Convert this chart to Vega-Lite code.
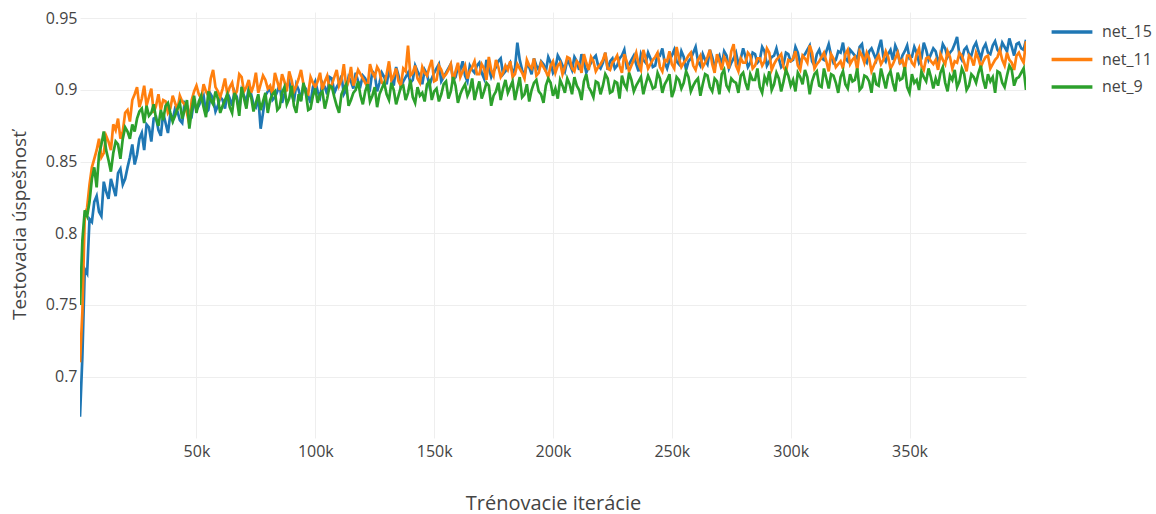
{
"$schema": "https://vega.github.io/schema/vega-lite/v6.json",
"width": 946, "height": 426,
"autosize": {"type": "none"},
"padding": {"left": 80, "top": 12, "right": 130, "bottom": 76},
"background": "white",
"config": {"view": {"stroke": null}, "font": "Open Sans"},
"data": {"values": [
{"i":1000,"net_15":0.672,"net_11":0.710,"net_9":0.750},
{"i":3000,"net_15":0.775,"net_11":0.812,"net_9":0.816},
{"i":5000,"net_15":0.810,"net_11":0.834,"net_9":0.822},
{"i":7000,"net_15":0.822,"net_11":0.852,"net_9":0.846},
{"i":9000,"net_15":0.815,"net_11":0.866,"net_9":0.855},
{"i":11000,"net_15":0.836,"net_11":0.856,"net_9":0.871},
{"i":13000,"net_15":0.824,"net_11":0.864,"net_9":0.851},
{"i":15000,"net_15":0.832,"net_11":0.876,"net_9":0.856},
{"i":17000,"net_15":0.842,"net_11":0.880,"net_9":0.862},
{"i":19000,"net_15":0.834,"net_11":0.871,"net_9":0.866},
{"i":21000,"net_15":0.846,"net_11":0.886,"net_9":0.871},
{"i":23000,"net_15":0.862,"net_11":0.893,"net_9":0.876},
{"i":25000,"net_15":0.855,"net_11":0.902,"net_9":0.880},
{"i":27000,"net_15":0.870,"net_11":0.894,"net_9":0.887},
{"i":29000,"net_15":0.876,"net_11":0.889,"net_9":0.889},
{"i":31000,"net_15":0.864,"net_11":0.901,"net_9":0.884},
{"i":33000,"net_15":0.881,"net_11":0.889,"net_9":0.880},
{"i":35000,"net_15":0.868,"net_11":0.886,"net_9":0.886},
{"i":37000,"net_15":0.877,"net_11":0.892,"net_9":0.889},
{"i":39000,"net_15":0.883,"net_11":0.887,"net_9":0.884},
{"i":41000,"net_15":0.887,"net_11":0.891,"net_9":0.882},
{"i":43000,"net_15":0.879,"net_11":0.896,"net_9":0.891},
{"i":45000,"net_15":0.891,"net_11":0.890,"net_9":0.886},
{"i":47000,"net_15":0.884,"net_11":0.876,"net_9":0.873},
{"i":49000,"net_15":0.893,"net_11":0.899,"net_9":0.896},
{"i":51000,"net_15":0.889,"net_11":0.897,"net_9":0.892},
{"i":53000,"net_15":0.896,"net_11":0.904,"net_9":0.888},
{"i":55000,"net_15":0.886,"net_11":0.896,"net_9":0.899},
{"i":57000,"net_15":0.894,"net_11":0.914,"net_9":0.890},
{"i":59000,"net_15":0.889,"net_11":0.899,"net_9":0.894},
{"i":61000,"net_15":0.893,"net_11":0.901,"net_9":0.889},
{"i":63000,"net_15":0.898,"net_11":0.897,"net_9":0.897},
{"i":65000,"net_15":0.889,"net_11":0.905,"net_9":0.884},
{"i":67000,"net_15":0.895,"net_11":0.899,"net_9":0.893},
{"i":69000,"net_15":0.900,"net_11":0.909,"net_9":0.902},
{"i":71000,"net_15":0.892,"net_11":0.902,"net_9":0.887},
{"i":73000,"net_15":0.897,"net_11":0.898,"net_9":0.895},
{"i":75000,"net_15":0.888,"net_11":0.912,"net_9":0.891},
{"i":77000,"net_15":0.873,"net_11":0.904,"net_9":0.886},
{"i":79000,"net_15":0.896,"net_11":0.907,"net_9":0.898},
{"i":81000,"net_15":0.901,"net_11":0.903,"net_9":0.893},
{"i":83000,"net_15":0.895,"net_11":0.912,"net_9":0.899},
{"i":85000,"net_15":0.904,"net_11":0.900,"net_9":0.888},
{"i":87000,"net_15":0.897,"net_11":0.906,"net_9":0.902},
{"i":89000,"net_15":0.906,"net_11":0.913,"net_9":0.894},
{"i":91000,"net_15":0.892,"net_11":0.899,"net_9":0.889},
{"i":93000,"net_15":0.900,"net_11":0.908,"net_9":0.897},
{"i":95000,"net_15":0.903,"net_11":0.904,"net_9":0.905},
{"i":97000,"net_15":0.896,"net_11":0.897,"net_9":0.886},
{"i":99000,"net_15":0.902,"net_11":0.905,"net_9":0.896},
{"i":101000,"net_15":0.899,"net_11":0.906,"net_9":0.891},
{"i":103000,"net_15":0.905,"net_11":0.900,"net_9":0.899},
{"i":105000,"net_15":0.897,"net_11":0.910,"net_9":0.894},
{"i":107000,"net_15":0.908,"net_11":0.904,"net_9":0.902},
{"i":109000,"net_15":0.902,"net_11":0.914,"net_9":0.889},
{"i":111000,"net_15":0.910,"net_11":0.907,"net_9":0.897},
{"i":113000,"net_15":0.900,"net_11":0.902,"net_9":0.904},
{"i":115000,"net_15":0.906,"net_11":0.916,"net_9":0.893},
{"i":117000,"net_15":0.912,"net_11":0.908,"net_9":0.900},
{"i":119000,"net_15":0.903,"net_11":0.911,"net_9":0.896},
{"i":121000,"net_15":0.908,"net_11":0.905,"net_9":0.899},
{"i":123000,"net_15":0.901,"net_11":0.918,"net_9":0.892},
{"i":125000,"net_15":0.911,"net_11":0.909,"net_9":0.902},
{"i":127000,"net_15":0.905,"net_11":0.913,"net_9":0.897},
{"i":129000,"net_15":0.909,"net_11":0.904,"net_9":0.905},
{"i":131000,"net_15":0.914,"net_11":0.920,"net_9":0.893},
{"i":133000,"net_15":0.903,"net_11":0.910,"net_9":0.900},
{"i":135000,"net_15":0.910,"net_11":0.906,"net_9":0.896},
{"i":137000,"net_15":0.906,"net_11":0.915,"net_9":0.903},
{"i":139000,"net_15":0.912,"net_11":0.931,"net_9":0.898},
{"i":141000,"net_15":0.907,"net_11":0.912,"net_9":0.895},
{"i":143000,"net_15":0.913,"net_11":0.908,"net_9":0.902},
{"i":145000,"net_15":0.904,"net_11":0.916,"net_9":0.898},
{"i":147000,"net_15":0.911,"net_11":0.910,"net_9":0.904},
{"i":149000,"net_15":0.908,"net_11":0.921,"net_9":0.893},
{"i":151000,"net_15":0.915,"net_11":0.907,"net_9":0.901},
{"i":153000,"net_15":0.906,"net_11":0.914,"net_9":0.897},
{"i":155000,"net_15":0.912,"net_11":0.911,"net_9":0.906},
{"i":157000,"net_15":0.918,"net_11":0.918,"net_9":0.899},
{"i":159000,"net_15":0.909,"net_11":0.913,"net_9":0.903},
{"i":161000,"net_15":0.914,"net_11":0.909,"net_9":0.897},
{"i":163000,"net_15":0.910,"net_11":0.917,"net_9":0.904},
{"i":165000,"net_15":0.917,"net_11":0.913,"net_9":0.900},
{"i":167000,"net_15":0.912,"net_11":0.920,"net_9":0.893},
{"i":169000,"net_15":0.919,"net_11":0.911,"net_9":0.906},
{"i":171000,"net_15":0.908,"net_11":0.915,"net_9":0.899},
{"i":173000,"net_15":0.915,"net_11":0.923,"net_9":0.903},
{"i":175000,"net_15":0.913,"net_11":0.910,"net_9":0.896},
{"i":177000,"net_15":0.920,"net_11":0.916,"net_9":0.905},
{"i":179000,"net_15":0.911,"net_11":0.912,"net_9":0.901},
{"i":181000,"net_15":0.916,"net_11":0.914,"net_9":0.898},
{"i":183000,"net_15":0.912,"net_11":0.909,"net_9":0.906},
{"i":185000,"net_15":0.933,"net_11":0.918,"net_9":0.901},
{"i":187000,"net_15":0.914,"net_11":0.912,"net_9":0.895},
{"i":189000,"net_15":0.918,"net_11":0.921,"net_9":0.904},
{"i":191000,"net_15":0.911,"net_11":0.915,"net_9":0.900},
{"i":193000,"net_15":0.917,"net_11":0.910,"net_9":0.907},
{"i":195000,"net_15":0.920,"net_11":0.919,"net_9":0.897},
{"i":197000,"net_15":0.913,"net_11":0.913,"net_9":0.903},
{"i":199000,"net_15":0.919,"net_11":0.917,"net_9":0.905},
{"i":201000,"net_15":0.915,"net_11":0.912,"net_9":0.901},
{"i":203000,"net_15":0.921,"net_11":0.919,"net_9":0.907},
{"i":205000,"net_15":0.913,"net_11":0.916,"net_9":0.898},
{"i":207000,"net_15":0.918,"net_11":0.922,"net_9":0.904},
{"i":209000,"net_15":0.923,"net_11":0.913,"net_9":0.909},
{"i":211000,"net_15":0.914,"net_11":0.918,"net_9":0.900},
{"i":213000,"net_15":0.920,"net_11":0.925,"net_9":0.906},
{"i":215000,"net_15":0.916,"net_11":0.914,"net_9":0.902},
{"i":217000,"net_15":0.922,"net_11":0.920,"net_9":0.895},
{"i":219000,"net_15":0.917,"net_11":0.916,"net_9":0.905},
{"i":221000,"net_15":0.919,"net_11":0.921,"net_9":0.903},
{"i":223000,"net_15":0.914,"net_11":0.915,"net_9":0.908},
{"i":225000,"net_15":0.922,"net_11":0.919,"net_9":0.899},
{"i":227000,"net_15":0.917,"net_11":0.924,"net_9":0.905},
{"i":229000,"net_15":0.924,"net_11":0.912,"net_9":0.910},
{"i":231000,"net_15":0.916,"net_11":0.920,"net_9":0.901},
{"i":233000,"net_15":0.921,"net_11":0.917,"net_9":0.907},
{"i":235000,"net_15":0.918,"net_11":0.926,"net_9":0.903},
{"i":237000,"net_15":0.925,"net_11":0.914,"net_9":0.909},
{"i":239000,"net_15":0.919,"net_11":0.922,"net_9":0.904},
{"i":241000,"net_15":0.922,"net_11":0.918,"net_9":0.906},
{"i":243000,"net_15":0.917,"net_11":0.923,"net_9":0.902},
{"i":245000,"net_15":0.924,"net_11":0.916,"net_9":0.908},
{"i":247000,"net_15":0.919,"net_11":0.921,"net_9":0.904},
{"i":249000,"net_15":0.921,"net_11":0.927,"net_9":0.911},
{"i":251000,"net_15":0.928,"net_11":0.915,"net_9":0.900},
{"i":253000,"net_15":0.918,"net_11":0.922,"net_9":0.907},
{"i":255000,"net_15":0.923,"net_11":0.919,"net_9":0.905},
{"i":257000,"net_15":0.920,"net_11":0.924,"net_9":0.909},
{"i":259000,"net_15":0.926,"net_11":0.917,"net_9":0.903},
{"i":261000,"net_15":0.920,"net_11":0.921,"net_9":0.908},
{"i":263000,"net_15":0.925,"net_11":0.916,"net_9":0.904},
{"i":265000,"net_15":0.918,"net_11":0.923,"net_9":0.910},
{"i":267000,"net_15":0.923,"net_11":0.918,"net_9":0.899},
{"i":269000,"net_15":0.921,"net_11":0.925,"net_9":0.906},
{"i":271000,"net_15":0.917,"net_11":0.914,"net_9":0.911},
{"i":273000,"net_15":0.924,"net_11":0.920,"net_9":0.903},
{"i":275000,"net_15":0.919,"net_11":0.927,"net_9":0.908},
{"i":277000,"net_15":0.926,"net_11":0.917,"net_9":0.905},
{"i":279000,"net_15":0.922,"net_11":0.922,"net_9":0.910},
{"i":281000,"net_15":0.923,"net_11":0.919,"net_9":0.905},
{"i":283000,"net_15":0.919,"net_11":0.924,"net_9":0.911},
{"i":285000,"net_15":0.925,"net_11":0.917,"net_9":0.907},
{"i":287000,"net_15":0.921,"net_11":0.922,"net_9":0.902},
{"i":289000,"net_15":0.927,"net_11":0.920,"net_9":0.909},
{"i":291000,"net_15":0.920,"net_11":0.926,"net_9":0.913},
{"i":293000,"net_15":0.924,"net_11":0.918,"net_9":0.904},
{"i":295000,"net_15":0.922,"net_11":0.923,"net_9":0.908},
{"i":297000,"net_15":0.918,"net_11":0.916,"net_9":0.906},
{"i":299000,"net_15":0.925,"net_11":0.921,"net_9":0.910},
{"i":301000,"net_15":0.921,"net_11":0.922,"net_9":0.907},
{"i":303000,"net_15":0.926,"net_11":0.917,"net_9":0.912},
{"i":305000,"net_15":0.923,"net_11":0.924,"net_9":0.904},
{"i":307000,"net_15":0.928,"net_11":0.919,"net_9":0.909},
{"i":309000,"net_15":0.920,"net_11":0.926,"net_9":0.906},
{"i":311000,"net_15":0.925,"net_11":0.918,"net_9":0.913},
{"i":313000,"net_15":0.922,"net_11":0.923,"net_9":0.902},
{"i":315000,"net_15":0.927,"net_11":0.920,"net_9":0.908},
{"i":317000,"net_15":0.924,"net_11":0.925,"net_9":0.911},
{"i":319000,"net_15":0.921,"net_11":0.916,"net_9":0.905},
{"i":321000,"net_15":0.926,"net_11":0.920,"net_9":0.909},
{"i":323000,"net_15":0.922,"net_11":0.925,"net_9":0.904},
{"i":325000,"net_15":0.928,"net_11":0.918,"net_9":0.911},
{"i":327000,"net_15":0.924,"net_11":0.923,"net_9":0.907},
{"i":329000,"net_15":0.930,"net_11":0.927,"net_9":0.900},
{"i":331000,"net_15":0.921,"net_11":0.919,"net_9":0.910},
{"i":333000,"net_15":0.927,"net_11":0.922,"net_9":0.906},
{"i":335000,"net_15":0.925,"net_11":0.917,"net_9":0.912},
{"i":337000,"net_15":0.929,"net_11":0.924,"net_9":0.903},
{"i":339000,"net_15":0.923,"net_11":0.921,"net_9":0.908},
{"i":341000,"net_15":0.925,"net_11":0.923,"net_9":0.910},
{"i":343000,"net_15":0.921,"net_11":0.918,"net_9":0.905},
{"i":345000,"net_15":0.927,"net_11":0.926,"net_9":0.912},
{"i":347000,"net_15":0.924,"net_11":0.921,"net_9":0.908},
{"i":349000,"net_15":0.931,"net_11":0.924,"net_9":0.902},
{"i":351000,"net_15":0.923,"net_11":0.919,"net_9":0.911},
{"i":353000,"net_15":0.926,"net_11":0.925,"net_9":0.907},
{"i":355000,"net_15":0.922,"net_11":0.917,"net_9":0.913},
{"i":357000,"net_15":0.928,"net_11":0.922,"net_9":0.906},
{"i":359000,"net_15":0.925,"net_11":0.920,"net_9":0.909},
{"i":361000,"net_15":0.927,"net_11":0.921,"net_9":0.908},
{"i":363000,"net_15":0.923,"net_11":0.925,"net_9":0.912},
{"i":365000,"net_15":0.929,"net_11":0.918,"net_9":0.905},
{"i":367000,"net_15":0.926,"net_11":0.923,"net_9":0.910},
{"i":369000,"net_15":0.932,"net_11":0.920,"net_9":0.914},
{"i":371000,"net_15":0.924,"net_11":0.926,"net_9":0.906},
{"i":373000,"net_15":0.928,"net_11":0.919,"net_9":0.911},
{"i":375000,"net_15":0.925,"net_11":0.924,"net_9":0.903},
{"i":377000,"net_15":0.930,"net_11":0.917,"net_9":0.909},
{"i":379000,"net_15":0.927,"net_11":0.922,"net_9":0.912},
{"i":381000,"net_15":0.929,"net_11":0.920,"net_9":0.907},
{"i":383000,"net_15":0.926,"net_11":0.924,"net_9":0.911},
{"i":385000,"net_15":0.931,"net_11":0.918,"net_9":0.909},
{"i":387000,"net_15":0.928,"net_11":0.923,"net_9":0.913},
{"i":389000,"net_15":0.933,"net_11":0.921,"net_9":0.905},
{"i":391000,"net_15":0.927,"net_11":0.926,"net_9":0.910},
{"i":393000,"net_15":0.930,"net_11":0.919,"net_9":0.914},
{"i":395000,"net_15":0.932,"net_11":0.924,"net_9":0.908},
{"i":397000,"net_15":0.929,"net_11":0.922,"net_9":0.912},
{"i":399000,"net_15":0.935,"net_11":0.934,"net_9":0.900},
{"i":2000,"net_15":0.714,"net_11":0.745,"net_9":0.795},
{"i":4000,"net_15":0.772,"net_11":0.818,"net_9":0.812},
{"i":6000,"net_15":0.808,"net_11":0.846,"net_9":0.838},
{"i":8000,"net_15":0.826,"net_11":0.858,"net_9":0.832},
{"i":10000,"net_15":0.812,"net_11":0.853,"net_9":0.862},
{"i":12000,"net_15":0.829,"net_11":0.868,"net_9":0.858},
{"i":14000,"net_15":0.838,"net_11":0.858,"net_9":0.843},
{"i":16000,"net_15":0.826,"net_11":0.872,"net_9":0.864},
{"i":18000,"net_15":0.845,"net_11":0.866,"net_9":0.852},
{"i":20000,"net_15":0.838,"net_11":0.884,"net_9":0.874},
{"i":22000,"net_15":0.853,"net_11":0.878,"net_9":0.866},
{"i":24000,"net_15":0.848,"net_11":0.897,"net_9":0.871},
{"i":26000,"net_15":0.866,"net_11":0.888,"net_9":0.885},
{"i":28000,"net_15":0.858,"net_11":0.903,"net_9":0.877},
{"i":30000,"net_15":0.874,"net_11":0.895,"net_9":0.882},
{"i":32000,"net_15":0.880,"net_11":0.884,"net_9":0.890},
{"i":34000,"net_15":0.872,"net_11":0.897,"net_9":0.875},
{"i":36000,"net_15":0.884,"net_11":0.893,"net_9":0.879},
{"i":38000,"net_15":0.870,"net_11":0.884,"net_9":0.891},
{"i":40000,"net_15":0.879,"net_11":0.896,"net_9":0.878},
{"i":42000,"net_15":0.885,"net_11":0.886,"net_9":0.887},
{"i":44000,"net_15":0.877,"net_11":0.892,"net_9":0.880},
{"i":46000,"net_15":0.889,"net_11":0.884,"net_9":0.893},
{"i":48000,"net_15":0.882,"net_11":0.893,"net_9":0.886},
{"i":50000,"net_15":0.886,"net_11":0.903,"net_9":0.884},
{"i":52000,"net_15":0.893,"net_11":0.894,"net_9":0.896},
{"i":54000,"net_15":0.884,"net_11":0.899,"net_9":0.881},
{"i":56000,"net_15":0.897,"net_11":0.908,"net_9":0.893},
{"i":58000,"net_15":0.885,"net_11":0.902,"net_9":0.899},
{"i":60000,"net_15":0.895,"net_11":0.895,"net_9":0.884},
{"i":62000,"net_15":0.887,"net_11":0.908,"net_9":0.893},
{"i":64000,"net_15":0.894,"net_11":0.902,"net_9":0.888},
{"i":66000,"net_15":0.899,"net_11":0.896,"net_9":0.898},
{"i":68000,"net_15":0.886,"net_11":0.911,"net_9":0.882},
{"i":70000,"net_15":0.896,"net_11":0.899,"net_9":0.894},
{"i":72000,"net_15":0.901,"net_11":0.907,"net_9":0.899},
{"i":74000,"net_15":0.890,"net_11":0.903,"net_9":0.885},
{"i":76000,"net_15":0.895,"net_11":0.898,"net_9":0.897},
{"i":78000,"net_15":0.884,"net_11":0.910,"net_9":0.892},
{"i":80000,"net_15":0.899,"net_11":0.901,"net_9":0.884},
{"i":82000,"net_15":0.893,"net_11":0.897,"net_9":0.897},
{"i":84000,"net_15":0.899,"net_11":0.906,"net_9":0.886},
{"i":86000,"net_15":0.891,"net_11":0.911,"net_9":0.898},
{"i":88000,"net_15":0.903,"net_11":0.899,"net_9":0.890},
{"i":90000,"net_15":0.897,"net_11":0.907,"net_9":0.903},
{"i":92000,"net_15":0.904,"net_11":0.903,"net_9":0.884},
{"i":94000,"net_15":0.893,"net_11":0.914,"net_9":0.892},
{"i":96000,"net_15":0.901,"net_11":0.898,"net_9":0.898},
{"i":98000,"net_15":0.891,"net_11":0.909,"net_9":0.887},
{"i":100000,"net_15":0.906,"net_11":0.902,"net_9":0.901},
{"i":102000,"net_15":0.895,"net_11":0.912,"net_9":0.897},
{"i":104000,"net_15":0.902,"net_11":0.906,"net_9":0.887},
{"i":106000,"net_15":0.909,"net_11":0.901,"net_9":0.903},
{"i":108000,"net_15":0.898,"net_11":0.909,"net_9":0.895},
{"i":110000,"net_15":0.905,"net_11":0.903,"net_9":0.884},
{"i":112000,"net_15":0.897,"net_11":0.918,"net_9":0.901},
{"i":114000,"net_15":0.909,"net_11":0.906,"net_9":0.889},
{"i":116000,"net_15":0.901,"net_11":0.903,"net_9":0.898},
{"i":118000,"net_15":0.906,"net_11":0.914,"net_9":0.906},
{"i":120000,"net_15":0.910,"net_11":0.908,"net_9":0.890},
{"i":122000,"net_15":0.904,"net_11":0.902,"net_9":0.904},
{"i":124000,"net_15":0.913,"net_11":0.912,"net_9":0.896},
{"i":126000,"net_15":0.899,"net_11":0.916,"net_9":0.888},
{"i":128000,"net_15":0.912,"net_11":0.905,"net_9":0.901},
{"i":130000,"net_15":0.904,"net_11":0.911,"net_9":0.897},
{"i":132000,"net_15":0.908,"net_11":0.907,"net_9":0.905},
{"i":134000,"net_15":0.916,"net_11":0.915,"net_9":0.890},
{"i":136000,"net_15":0.902,"net_11":0.903,"net_9":0.902},
{"i":138000,"net_15":0.909,"net_11":0.913,"net_9":0.893},
{"i":140000,"net_15":0.905,"net_11":0.910,"net_9":0.907},
{"i":142000,"net_15":0.917,"net_11":0.917,"net_9":0.891},
{"i":144000,"net_15":0.910,"net_11":0.905,"net_9":0.896},
{"i":146000,"net_15":0.914,"net_11":0.912,"net_9":0.892},
{"i":148000,"net_15":0.903,"net_11":0.916,"net_9":0.906},
{"i":150000,"net_15":0.912,"net_11":0.906,"net_9":0.899},
{"i":152000,"net_15":0.918,"net_11":0.917,"net_9":0.892},
{"i":154000,"net_15":0.909,"net_11":0.909,"net_9":0.904},
{"i":156000,"net_15":0.915,"net_11":0.914,"net_9":0.894},
{"i":158000,"net_15":0.907,"net_11":0.906,"net_9":0.909},
{"i":160000,"net_15":0.916,"net_11":0.919,"net_9":0.891},
{"i":162000,"net_15":0.920,"net_11":0.913,"net_9":0.901},
{"i":164000,"net_15":0.906,"net_11":0.908,"net_9":0.896},
{"i":166000,"net_15":0.914,"net_11":0.916,"net_9":0.908},
{"i":168000,"net_15":0.917,"net_11":0.911,"net_9":0.900},
{"i":170000,"net_15":0.912,"net_11":0.918,"net_9":0.894},
{"i":172000,"net_15":0.921,"net_11":0.907,"net_9":0.905},
{"i":174000,"net_15":0.909,"net_11":0.914,"net_9":0.889},
{"i":176000,"net_15":0.916,"net_11":0.921,"net_9":0.899},
{"i":178000,"net_15":0.922,"net_11":0.909,"net_9":0.893},
{"i":180000,"net_15":0.913,"net_11":0.917,"net_9":0.907},
{"i":182000,"net_15":0.919,"net_11":0.920,"net_9":0.902},
{"i":184000,"net_15":0.915,"net_11":0.911,"net_9":0.893},
{"i":186000,"net_15":0.921,"net_11":0.915,"net_9":0.909},
{"i":188000,"net_15":0.910,"net_11":0.908,"net_9":0.897},
{"i":190000,"net_15":0.916,"net_11":0.917,"net_9":0.892},
{"i":192000,"net_15":0.922,"net_11":0.922,"net_9":0.905},
{"i":194000,"net_15":0.914,"net_11":0.912,"net_9":0.899},
{"i":196000,"net_15":0.918,"net_11":0.916,"net_9":0.891},
{"i":198000,"net_15":0.923,"net_11":0.909,"net_9":0.908},
{"i":200000,"net_15":0.912,"net_11":0.920,"net_9":0.896},
{"i":202000,"net_15":0.924,"net_11":0.917,"net_9":0.894},
{"i":204000,"net_15":0.917,"net_11":0.911,"net_9":0.903},
{"i":206000,"net_15":0.921,"net_11":0.923,"net_9":0.908},
{"i":208000,"net_15":0.914,"net_11":0.915,"net_9":0.897},
{"i":210000,"net_15":0.920,"net_11":0.920,"net_9":0.903},
{"i":212000,"net_15":0.925,"net_11":0.912,"net_9":0.893},
{"i":214000,"net_15":0.912,"net_11":0.919,"net_9":0.911},
{"i":216000,"net_15":0.919,"net_11":0.923,"net_9":0.899},
{"i":218000,"net_15":0.924,"net_11":0.913,"net_9":0.906},
{"i":220000,"net_15":0.915,"net_11":0.918,"net_9":0.897},
{"i":222000,"net_15":0.926,"net_11":0.926,"net_9":0.911},
{"i":224000,"net_15":0.920,"net_11":0.914,"net_9":0.898},
{"i":226000,"net_15":0.915,"net_11":0.921,"net_9":0.906},
{"i":228000,"net_15":0.922,"net_11":0.917,"net_9":0.894},
{"i":230000,"net_15":0.928,"net_11":0.925,"net_9":0.904},
{"i":232000,"net_15":0.918,"net_11":0.913,"net_9":0.912},
{"i":234000,"net_15":0.924,"net_11":0.921,"net_9":0.899},
{"i":236000,"net_15":0.913,"net_11":0.918,"net_9":0.906},
{"i":238000,"net_15":0.921,"net_11":0.928,"net_9":0.897},
{"i":240000,"net_15":0.926,"net_11":0.915,"net_9":0.910},
{"i":242000,"net_15":0.916,"net_11":0.921,"net_9":0.901},
{"i":244000,"net_15":0.925,"net_11":0.926,"net_9":0.912},
{"i":246000,"net_15":0.929,"net_11":0.913,"net_9":0.898},
{"i":248000,"net_15":0.915,"net_11":0.920,"net_9":0.907},
{"i":250000,"net_15":0.924,"net_11":0.918,"net_9":0.895},
{"i":252000,"net_15":0.920,"net_11":0.930,"net_9":0.909},
{"i":254000,"net_15":0.927,"net_11":0.916,"net_9":0.901},
{"i":256000,"net_15":0.914,"net_11":0.921,"net_9":0.913},
{"i":258000,"net_15":0.922,"net_11":0.926,"net_9":0.899},
{"i":260000,"net_15":0.930,"net_11":0.914,"net_9":0.906},
{"i":262000,"net_15":0.917,"net_11":0.924,"net_9":0.896},
{"i":264000,"net_15":0.921,"net_11":0.919,"net_9":0.911},
{"i":266000,"net_15":0.928,"net_11":0.928,"net_9":0.902},
{"i":268000,"net_15":0.916,"net_11":0.912,"net_9":0.908},
{"i":270000,"net_15":0.924,"net_11":0.920,"net_9":0.897},
{"i":272000,"net_15":0.927,"net_11":0.923,"net_9":0.914},
{"i":274000,"net_15":0.915,"net_11":0.915,"net_9":0.900},
{"i":276000,"net_15":0.922,"net_11":0.932,"net_9":0.906},
{"i":278000,"net_15":0.918,"net_11":0.913,"net_9":0.898},
{"i":280000,"net_15":0.929,"net_11":0.919,"net_9":0.912},
{"i":282000,"net_15":0.916,"net_11":0.926,"net_9":0.900},
{"i":284000,"net_15":0.926,"net_11":0.915,"net_9":0.907},
{"i":286000,"net_15":0.919,"net_11":0.922,"net_9":0.915},
{"i":288000,"net_15":0.930,"net_11":0.917,"net_9":0.898},
{"i":290000,"net_15":0.917,"net_11":0.929,"net_9":0.905},
{"i":292000,"net_15":0.923,"net_11":0.914,"net_9":0.900},
{"i":294000,"net_15":0.929,"net_11":0.921,"net_9":0.912},
{"i":296000,"net_15":0.916,"net_11":0.925,"net_9":0.899},
{"i":298000,"net_15":0.926,"net_11":0.913,"net_9":0.914},
{"i":300000,"net_15":0.920,"net_11":0.920,"net_9":0.903},
{"i":302000,"net_15":0.930,"net_11":0.927,"net_9":0.899},
{"i":304000,"net_15":0.918,"net_11":0.914,"net_9":0.909},
{"i":306000,"net_15":0.925,"net_11":0.922,"net_9":0.914},
{"i":308000,"net_15":0.931,"net_11":0.931,"net_9":0.897},
{"i":310000,"net_15":0.917,"net_11":0.915,"net_9":0.911},
{"i":312000,"net_15":0.928,"net_11":0.920,"net_9":0.903},
{"i":314000,"net_15":0.921,"net_11":0.926,"net_9":0.915},
{"i":316000,"net_15":0.932,"net_11":0.913,"net_9":0.901},
{"i":318000,"net_15":0.919,"net_11":0.922,"net_9":0.910},
{"i":320000,"net_15":0.927,"net_11":0.918,"net_9":0.898},
{"i":322000,"net_15":0.933,"net_11":0.915,"net_9":0.913},
{"i":324000,"net_15":0.920,"net_11":0.928,"net_9":0.901},
{"i":326000,"net_15":0.926,"net_11":0.921,"net_9":0.906},
{"i":328000,"net_15":0.922,"net_11":0.914,"net_9":0.915},
{"i":330000,"net_15":0.932,"net_11":0.924,"net_9":0.902},
{"i":332000,"net_15":0.919,"net_11":0.926,"net_9":0.909},
{"i":334000,"net_15":0.929,"net_11":0.913,"net_9":0.898},
{"i":336000,"net_15":0.921,"net_11":0.921,"net_9":0.904},
{"i":338000,"net_15":0.935,"net_11":0.918,"net_9":0.915},
{"i":340000,"net_15":0.920,"net_11":0.927,"net_9":0.901},
{"i":342000,"net_15":0.928,"net_11":0.915,"net_9":0.913},
{"i":344000,"net_15":0.931,"net_11":0.922,"net_9":0.899},
{"i":346000,"net_15":0.918,"net_11":0.919,"net_9":0.907},
{"i":348000,"net_15":0.927,"net_11":0.914,"net_9":0.916},
{"i":350000,"net_15":0.922,"net_11":0.924,"net_9":0.898},
{"i":352000,"net_15":0.930,"net_11":0.917,"net_9":0.905},
{"i":354000,"net_15":0.919,"net_11":0.929,"net_9":0.900},
{"i":356000,"net_15":0.933,"net_11":0.914,"net_9":0.909},
{"i":358000,"net_15":0.921,"net_11":0.923,"net_9":0.915},
{"i":360000,"net_15":0.929,"net_11":0.918,"net_9":0.901},
{"i":362000,"net_15":0.920,"net_11":0.914,"net_9":0.903},
{"i":364000,"net_15":0.932,"net_11":0.921,"net_9":0.916},
{"i":366000,"net_15":0.923,"net_11":0.927,"net_9":0.899},
{"i":368000,"net_15":0.928,"net_11":0.915,"net_9":0.907},
{"i":370000,"net_15":0.937,"net_11":0.919,"net_9":0.902},
{"i":372000,"net_15":0.921,"net_11":0.924,"net_9":0.915},
{"i":374000,"net_15":0.930,"net_11":0.913,"net_9":0.900},
{"i":376000,"net_15":0.924,"net_11":0.922,"net_9":0.911},
{"i":378000,"net_15":0.933,"net_11":0.926,"net_9":0.905},
{"i":380000,"net_15":0.922,"net_11":0.916,"net_9":0.917},
{"i":382000,"net_15":0.932,"net_11":0.923,"net_9":0.901},
{"i":384000,"net_15":0.925,"net_11":0.915,"net_9":0.906},
{"i":386000,"net_15":0.934,"net_11":0.921,"net_9":0.898},
{"i":388000,"net_15":0.926,"net_11":0.928,"net_9":0.912},
{"i":390000,"net_15":0.930,"net_11":0.917,"net_9":0.902},
{"i":392000,"net_15":0.936,"net_11":0.921,"net_9":0.917},
{"i":394000,"net_15":0.924,"net_11":0.914,"net_9":0.903},
{"i":396000,"net_15":0.933,"net_11":0.926,"net_9":0.909},
{"i":398000,"net_15":0.928,"net_11":0.919,"net_9":0.915}
]},
"transform": [{"fold": ["net_15", "net_11", "net_9"], "as": ["key", "acc"]}],
"mark": {"type": "line", "strokeWidth": 2.7, "clip": true},
"encoding": {
  "x": {"field": "i", "type": "quantitative",
        "scale": {"domain": [1000, 399000], "nice": false, "zero": false},
        "title": "Trénovacie iterácie",
        "axis": {"values": [50000, 100000, 150000, 200000, 250000, 300000, 350000], "format": "~s",
                 "grid": true, "gridColor": "#eeeeee", "gridWidth": 1, "domain": false, "ticks": false,
                 "labelFont": "Open Sans", "labelFontSize": 16, "labelColor": "#444444", "labelPadding": 5,
                 "titleFont": "Open Sans", "titleFontSize": 20, "titleFontWeight": "normal", "titleColor": "#444444", "titlePadding": 34}},
  "y": {"field": "acc", "type": "quantitative",
        "scale": {"domain": [0.6572, 0.9544], "nice": false, "zero": false},
        "title": "Testovacia úspešnosť",
        "axis": {"values": [0.7, 0.75, 0.8, 0.85, 0.9, 0.95], "format": "~g",
                 "grid": true, "gridColor": "#eeeeee", "gridWidth": 1, "domain": false, "ticks": false,
                 "labelFont": "Open Sans", "labelFontSize": 16, "labelColor": "#444444", "labelPadding": 3,
                 "titleFont": "Open Sans", "titleFontSize": 19, "titleFontWeight": "normal", "titleColor": "#444444", "titlePadding": 16}},
  "color": {"field": "key", "type": "nominal",
            "scale": {"domain": ["net_15", "net_11", "net_9"], "range": ["#1f77b4", "#ff7f0e", "#2ca02c"]},
            "legend": {"title": null, "orient": "none", "legendX": 973, "legendY": 1, "padding": 0,
                       "symbolType": "M-1.2,0H1.2", "symbolSize": 1156, "symbolStrokeWidth": 3.5,
                       "labelFont": "Open Sans", "labelFontSize": 16, "labelColor": "#444444", "labelOffset": 11, "rowPadding": 0.5}}
}
}
